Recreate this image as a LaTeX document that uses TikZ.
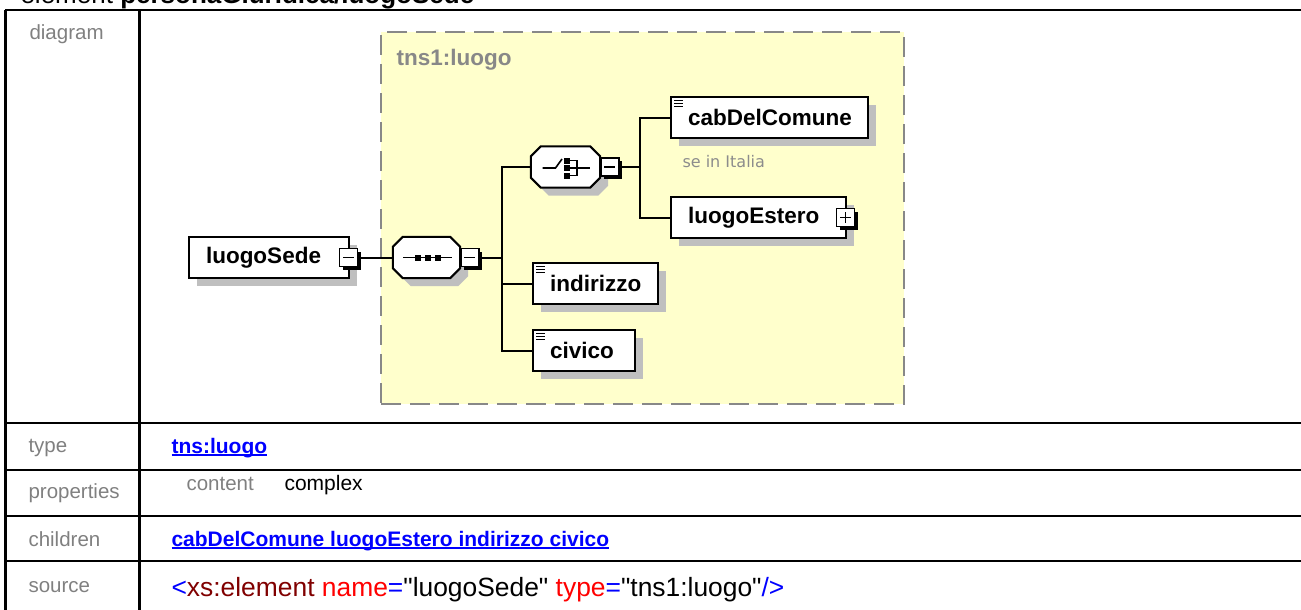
\documentclass[tikz,border=0pt]{standalone}
\usepackage{fontspec}
\setmainfont{Liberation Sans}
\newfontfamily\notefont{DejaVu Sans}
\newfontfamily\srcfont{Liberation Sans}[Ligatures=TeXOff]
\usepackage{tikz}
\usetikzlibrary{positioning,shadows}
\usepackage{xcolor}
\definecolor{grpfill}{RGB}{255,255,204}
\definecolor{grpline}{RGB}{136,136,136}
\definecolor{lblgray}{RGB}{128,128,128}
\definecolor{linkblue}{RGB}{0,0,255}
\definecolor{tagred}{RGB}{128,0,0}
\definecolor{attred}{RGB}{255,0,0}
\newcommand\lnk[1]{\setbox0\hbox{#1}\rlap{\copy0}\rule[-2.5pt]{\wd0}{1.6pt}}

\begin{document}
\begin{tikzpicture}[
    x=1pt, y=-1pt,
    grid/.style={line width=2.2pt},
    lbl/.style={anchor=base west, text=lblgray, font=\fontsize{20.5}{22}\selectfont},
    val/.style={anchor=base west, font=\fontsize{21}{23}\selectfont},
    link/.style={anchor=base west, text=linkblue, font=\fontsize{21}{23}\selectfont\bfseries},
    grpbox/.style={draw=grpline, line width=2pt, dash pattern=on 20pt off 9pt, fill=grpfill, anchor=north west},
    elem/.style={draw, fill=white, line width=2pt, minimum height=41pt, inner xsep=17pt, inner ysep=0pt, text width=#1, align=left, anchor=west, font=\fontsize{22.5}{24}\selectfont\bfseries, general shadow={fill=black!25, shadow xshift=8pt, shadow yshift=-8pt}},
    simpletype/.style={path picture={\foreach \dy in {3,6,9} \draw[line width=1pt] ([shift={(3pt,-\dy pt)}]path picture bounding box.north west) -- ++(9pt,0pt);}},
    compositor/.style={minimum width=#1, minimum height=41pt, inner sep=0pt},
    octagon/.style={line width=2pt},
    octshadow/.style={fill=black!25, transform canvas={shift={(8pt,-8pt)}}},
    icon/.style={line width=1.6pt},
    btn/.style={draw, fill=white, line width=1.5pt, minimum size=18pt, inner sep=0pt, general shadow={fill=black, shadow xshift=3pt, shadow yshift=-3pt},
        path picture={\draw[line width=1.5pt] ([xshift=3.5pt]path picture bounding box.west) -- ([xshift=-3.5pt]path picture bounding box.east);}},
    plusbtn/.style={btn, path picture={\draw[line width=1.5pt] ([xshift=3.5pt]path picture bounding box.west) -- ([xshift=-3.5pt]path picture bounding box.east);
        \draw[line width=1.5pt] ([yshift=-3.5pt]path picture bounding box.north) -- ([yshift=3.5pt]path picture bounding box.south);}},
    conn/.style={line width=2pt},
    note/.style={anchor=base west, text=black!45, font=\notefont\fontsize{16}{18}\selectfont}
]
\useasboundingbox (0,0) rectangle (1301,610);
\clip (0,0) rectangle (1301,610);

\node[anchor=base west, font=\fontsize{26}{28}\selectfont] (title) at (17,4) {element \textbf{personaGiuridica/luogoSede}};

\foreach \y in {10,423,470,516,561} \draw[grid] (5,\y) -- (1301,\y);
\foreach \x in {5.5,139.5} \draw[grid] (\x,10) -- (\x,610);

\node[lbl] (diaglbl) at (26,39.5) {diagram};
\node[lbl] (typelbl) at (25,452) {type};
\node[lbl] (proplbl) at (25,498) {properties};
\node[lbl] (childlbl) at (25,546) {children};
\node[lbl] (srclbl) at (25,592) {source};

\node[grpbox, minimum width=523pt, minimum height=372pt] (grp) at (380,31) {};
\node[anchor=base west, text=grpline, font=\fontsize{22.5}{24}\selectfont\bfseries] (grplbl) at (393,66) {tns1:luogo};

\node[compositor=67pt] (seq) at (426.5,257.5) {};
\node[compositor=69pt] (choice) at (565.5,167) {};
\foreach \c in {seq,choice} {
  \fill[octshadow] ([xshift=10pt]\c.north west) -- ([xshift=-10pt]\c.north east) -- ([yshift=-10pt]\c.north east) -- ([yshift=10pt]\c.south east) -- ([xshift=-10pt]\c.south east) -- ([xshift=10pt]\c.south west) -- ([yshift=10pt]\c.south west) -- ([yshift=-10pt]\c.north west) -- cycle;
  \filldraw[octagon, fill=white] ([xshift=10pt]\c.north west) -- ([xshift=-10pt]\c.north east) -- ([yshift=-10pt]\c.north east) -- ([yshift=10pt]\c.south east) -- ([xshift=-10pt]\c.south east) -- ([xshift=10pt]\c.south west) -- ([yshift=10pt]\c.south west) -- ([yshift=-10pt]\c.north west) -- cycle;
}
\begin{scope}[shift={(seq.center)}, x=1pt, y=1pt]
  \draw[icon] (-23.5,0) -- (25.5,0);
  \foreach \sx in {-8.5,1.5,11.5} \fill (\sx-3,-3) rectangle (\sx+3,3);
\end{scope}
\begin{scope}[shift={(choice.center)}, x=1pt, y=1pt]
  \draw[icon] (-23,-1) -- (-10,-1) -- (-3.5,8);
  \foreach \sy in {6.5,-1,-8.5} \fill (-2,\sy-3) rectangle (4,\sy+3);
  \draw[icon] (4,6.5) -- (11.5,6.5) -- (11.5,-8.5) -- (4,-8.5);
  \draw[icon] (4,-1) -- (24.5,-1);
\end{scope}

\node[elem=126pt] (sede) at (188,257.5) {luogoSede};
\node[btn] (sedebtn) at ([xshift=-1.5pt]sede.east) {};
\node[btn, right=0pt of seq] (seqbtn) {};
\coordinate (trunk) at (502,257.5);
\node[btn, right=0pt of choice] (choicebtn) {};
\coordinate (fork) at (640,167);
\node[elem=163pt, simpletype] (cab) at (670,117.5) {cabDelComune};
\node[note] (cabnote) at (679,167) {se in Italia};
\node[elem=141pt] (estero) at (670,217.5) {luogoEstero};
\node[plusbtn] (esterobtn) at ([xshift=-1.5pt]estero.east) {};
\node[elem=91pt, simpletype] (indirizzo) at (532,283.5) {indirizzo};
\node[elem=68pt, simpletype] (civico) at (532,350.5) {civico};

\draw[conn] (sedebtn.east) -- (seq.west);
\draw[conn] (seqbtn.east) -- (trunk);
\draw[conn] (choice.west) -| (trunk) |- (civico.west);
\draw[conn] (trunk) |- (indirizzo.west);
\draw[conn] (choicebtn.east) -- (fork);
\draw[conn] (cab.west) -| (fork) |- (estero.west);

\node[link] (typeval) at (168,453) {\lnk{tns:luogo}};
\node[lbl] (contentlbl) at (183,490) {content};
\node[val] (contentval) at (281,490) {complex};
\node[link] (childval) at (168,546) {\lnk{cabDelComune luogoEstero indirizzo civico}};
\node[val, font=\srcfont\fontsize{26.4}{28}\selectfont] (srcval) at (168,596) {\textcolor{linkblue}{<}\textcolor{tagred}{xs:element} \textcolor{attred}{name}\textcolor{linkblue}{=}"luogoSede" \textcolor{attred}{type}\textcolor{linkblue}{=}"tns1:luogo"\textcolor{linkblue}{/>}};
\end{tikzpicture}
\end{document}
